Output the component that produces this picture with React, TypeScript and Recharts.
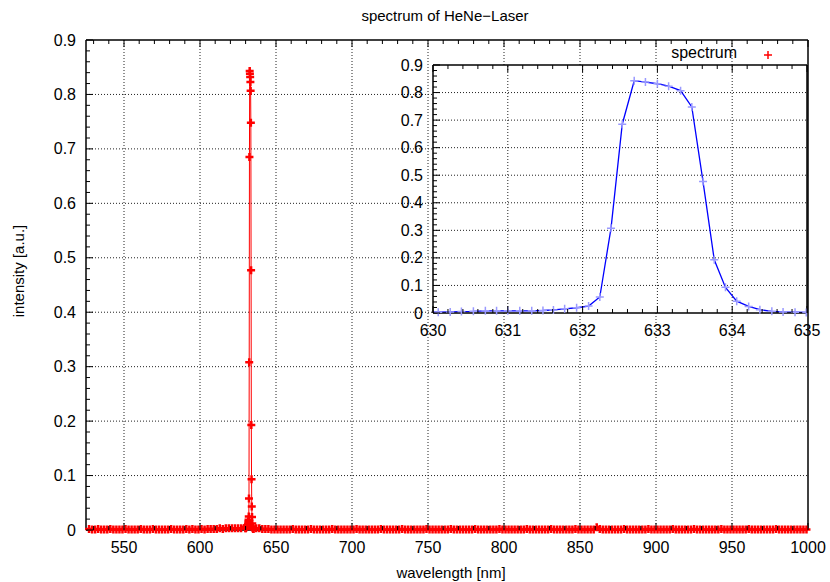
import React from 'react';
import { LineChart, Line, XAxis, YAxis, ReferenceLine, Legend } from 'recharts';

const TITLE = 'spectrum of HeNe\u2212Laser';
const X_LABEL = 'wavelength [nm]';
const Y_LABEL = 'intensity [a.u.]';
const SERIES_NAME = 'spectrum';

// axes
const mainXTicks = [550, 600, 650, 700, 750, 800, 850, 900, 950, 1000];
const mainYTicks = [0, 0.1, 0.2, 0.3, 0.4, 0.5, 0.6, 0.7, 0.8, 0.9];
const mainXDomain = [525, 1000];
const mainXMinorStep = 10;
const yMinorStep = 0.02;
const insetXTicks = [630, 631, 632, 633, 634, 635];
const insetYTicks = [0, 0.1, 0.2, 0.3, 0.4, 0.5, 0.6, 0.7, 0.8, 0.9];
const insetXMinorStep = 0.2;

// baseline samples (2 nm apart) left of the line
const baseLeftStart = 527;
const baseStep = 2;
const baseLeftValues = [
  0.002, 0.001, 0.001, 0.002, 0.001, 0.001, 0.001, 0.002, 0.001, 0.001,
  0.001, 0.001, 0.002, 0.001, 0.001, 0.001, 0.001, 0.002, 0.001, 0.001,
  0.001, 0.002, 0.001, 0.001, 0.001, 0.001, 0.001, 0.002, 0.001, 0.001,
  0.001, 0.001, 0.002, 0.001, 0.002, 0.001, 0.001, 0.002, 0.001, 0.002,
  0.002, 0.002, 0.002, 0.003, 0.002, 0.003, 0.003, 0.003, 0.003, 0.003,
  0.003,
];
// baseline samples right of the line
const baseRightStart = 637;
const baseRightValues = [
  0.003, 0.003, 0.002, 0.002, 0.002, 0.001, 0.001, 0.001, 0.001, 0.001,
  0.001, 0.001, 0.002, 0.001, 0.001, 0.001, 0.001, 0.001, 0.002, 0.001,
  0.001, 0.001, 0.001, 0.001, 0.001, 0.002, 0.001, 0.001, 0.001, 0.001,
  0.001, 0.001, 0.001, 0.002, 0.001, 0.001, 0.001, 0.001, 0.001, 0.001,
  0.001, 0.002, 0.001, 0.001, 0.001, 0.001, 0.001, 0.001, 0.002, 0.001,
  0.001, 0.001, 0.001, 0.001, 0.001, 0.001, 0.002, 0.001, 0.001, 0.001,
  0.001, 0.001, 0.001, 0.001, 0.002, 0.001, 0.001, 0.001, 0.001, 0.001,
  0.001, 0.001, 0.002, 0.001, 0.001, 0.001, 0.001, 0.001, 0.001, 0.001,
  0.002, 0.001, 0.001, 0.001, 0.001, 0.001, 0.001, 0.001, 0.001, 0.002,
  0.001, 0.001, 0.001, 0.001, 0.001, 0.001, 0.001, 0.002, 0.001, 0.001,
  0.001, 0.001, 0.001, 0.001, 0.001, 0.002, 0.001, 0.001, 0.001, 0.001,
  0.001, 0.001, 0.005, 0.002, 0.001, 0.001, 0.001, 0.001, 0.001, 0.001,
  0.001, 0.002, 0.001, 0.001, 0.001, 0.001, 0.001, 0.001, 0.001, 0.002,
  0.001, 0.001, 0.001, 0.001, 0.001, 0.001, 0.001, 0.002, 0.001, 0.001,
  0.001, 0.001, 0.001, 0.001, 0.002, 0.001, 0.001, 0.001, 0.001, 0.001,
  0.001, 0.001, 0.001, 0.002, 0.001, 0.001, 0.001, 0.001, 0.001, 0.001,
  0.001, 0.001, 0.002, 0.001, 0.001, 0.001, 0.001, 0.001, 0.001, 0.001,
  0.001, 0.002, 0.001, 0.001, 0.001, 0.001, 0.001, 0.001, 0.001, 0.001,
  0.001, 0.001,
];
// the laser line itself
const peakWavelengths = [
  629.92, 630.07, 630.23, 630.38, 630.54, 630.7, 630.85, 631.0, 631.16, 631.32,
  631.47, 631.61, 631.76, 631.92, 632.08, 632.23, 632.38, 632.53, 632.69, 632.84,
  633.0, 633.15, 633.31, 633.46, 633.61, 633.76, 633.91, 634.06, 634.22, 634.37,
  634.53, 634.68, 634.84, 634.99, 635.15,
];
const peakValues = [
  0.003, 0.003, 0.004, 0.005, 0.006, 0.008, 0.008, 0.008, 0.008, 0.008,
  0.009, 0.011, 0.015, 0.019, 0.025, 0.058, 0.308, 0.685, 0.843, 0.838,
  0.832, 0.823, 0.807, 0.748, 0.477, 0.193, 0.093, 0.043, 0.024, 0.012,
  0.006, 0.004, 0.003, 0.002, 0.002,
];

const FONT = '"Liberation Sans", Arial, Helvetica, sans-serif';

const mainData = [
  ...baseLeftValues.map((y, i) => ({ x: baseLeftStart + i * baseStep, y })),
  ...peakWavelengths.map((x, i) => ({ x, y: peakValues[i] })),
  ...baseRightValues.map((y, i) => ({ x: baseRightStart + i * baseStep, y })),
].sort((a, b) => a.x - b.x);

const insetData = peakWavelengths.map((x, i) => ({ x, y: peakValues[i] }));

const withMinor = (lo: number, hi: number, step: number) => {
  const out: number[] = [];
  const n = Math.round((hi - lo) / step);
  for (let i = 0; i <= n; i++) out.push(Math.round((lo + i * step) * 1000) / 1000);
  return out;
};

const isMajor = (majors: number[], v: number) => majors.some((m) => Math.abs(m - v) < 1e-6);

const fmtY = (v: number) => (Math.abs(v) < 1e-9 ? '0' : v.toFixed(1));
const fmtX = (v: number) => String(Math.round(v));

const makeTick = (
  orient: 'bottom' | 'top' | 'left' | 'right',
  majors: number[],
  fmt: ((v: number) => string) | null,
) => (props: any) => {
  const { x, y, payload, index } = props;
  const v = payload.value;
  const major = isMajor(majors, v);
  const len = major ? 7 : 4;
  let line;
  let label = null;
  if (orient === 'bottom') {
    line = <line x1={x} y1={y} x2={x} y2={y - len} stroke="#000" strokeWidth={1} />;
    if (fmt && major)
      label = (
        <text x={x} y={y + 23} textAnchor="middle" fontSize={16} fontFamily={FONT} fill="#000">
          {fmt(v)}
        </text>
      );
  } else if (orient === 'top') {
    line = <line x1={x} y1={y} x2={x} y2={y + len} stroke="#000" strokeWidth={1} />;
  } else if (orient === 'left') {
    line = <line x1={x} y1={y} x2={x + len} y2={y} stroke="#000" strokeWidth={1} />;
    if (fmt && major)
      label = (
        <text x={x - 10} y={y + 5.5} textAnchor="end" fontSize={16} fontFamily={FONT} fill="#000">
          {fmt(v)}
        </text>
      );
  } else {
    line = <line x1={x} y1={y} x2={x - len} y2={y} stroke="#000" strokeWidth={1} />;
  }
  return (
    <g key={`t-${orient}-${index}`}>
      {line}
      {label}
    </g>
  );
};

const makeCross = (color: string, half: number, sw: number) => (props: any) => {
  const { cx, cy, index } = props;
  if (cx == null || cy == null) return <g key={`c-${index}`} />;
  return (
    <path
      key={`c-${index}`}
      d={`M${cx - half},${cy}h${half * 2}M${cx},${cy - half}v${half * 2}`}
      stroke={color}
      strokeWidth={sw}
      fill="none"
    />
  );
};

const axisLineStyle = { stroke: '#000', strokeWidth: 1.5 };
const gridStyle = { stroke: '#222', strokeDasharray: '1 2', strokeWidth: 1 };

const mainXAll = withMinor(530, 1000, mainXMinorStep);
const mainYAll = withMinor(0, 0.9, yMinorStep);
const insetXAll = withMinor(630, 635, insetXMinorStep);
const insetYAll = withMinor(0, 0.9, yMinorStep);

const LegendContent = (props: any) => {
  const item = props.payload && props.payload[0];
  const name = item ? item.value : SERIES_NAME;
  return (
    <svg width={200} height={26} style={{ display: 'block', overflow: 'visible' }}>
      <text x={137} y={14.5} textAnchor="end" fontSize={16} fontFamily={FONT} fill="#000">
        {name}
      </text>
      <path d="M164,12h8M168,8v8" stroke="#ff0000" strokeWidth={1.5} />
    </svg>
  );
};

const axisCommon = {
  interval: 0 as const,
  tickSize: 0,
  tickMargin: 0,
  tickLine: false,
  axisLine: axisLineStyle,
};

export default function App() {
  return (
    <div style={{ position: 'absolute', left: 0, top: 0, width: 830, height: 582, background: '#fff' }}>
      <div style={{ position: 'absolute', left: 0, top: 0 }}>
        <LineChart width={830} height={582} data={mainData} margin={{ top: 39, right: 21, bottom: 51, left: 85 }}>
          {mainXTicks
            .filter((v) => v < 1000)
            .map((v) => (
              <ReferenceLine key={`gx${v}`} x={v} xAxisId="b" yAxisId="l" {...gridStyle} />
            ))}
          {mainYTicks
            .filter((v) => v > 0 && v < 0.9)
            .map((v) => (
              <ReferenceLine key={`gy${v}`} y={v} xAxisId="b" yAxisId="l" {...gridStyle} />
            ))}
          <Line
            xAxisId="b"
            yAxisId="l"
            dataKey="y"
            name={SERIES_NAME}
            stroke="#ff0000"
            strokeWidth={1}
            dot={makeCross('#ff0000', 4, 2.5)}
            activeDot={false}
            isAnimationActive={false}
          />
          <XAxis
            xAxisId="b"
            orientation="bottom"
            dataKey="x"
            type="number"
            domain={mainXDomain}
            ticks={mainXAll}
            height={1}
            {...axisCommon}
            tick={makeTick('bottom', mainXTicks, fmtX)}
          />
          <XAxis
            xAxisId="t"
            orientation="top"
            dataKey="x"
            type="number"
            domain={mainXDomain}
            ticks={mainXAll}
            height={1}
            {...axisCommon}
            tick={makeTick('top', mainXTicks, null)}
          />
          <YAxis
            yAxisId="l"
            orientation="left"
            type="number"
            domain={[0, 0.9]}
            ticks={mainYAll}
            width={1}
            {...axisCommon}
            tick={makeTick('left', mainYTicks, fmtY)}
          />
          <YAxis
            yAxisId="r"
            orientation="right"
            type="number"
            domain={[0, 0.9]}
            ticks={mainYAll}
            width={1}
            {...axisCommon}
            tick={makeTick('right', mainYTicks, null)}
          />
          <Legend
            layout="horizontal"
            verticalAlign="middle"
            align="center"
            content={<LegendContent />}
            wrapperStyle={{ position: 'absolute', left: 600, top: 43, width: 200, height: 26 }}
          />
        </LineChart>
      </div>

      <div style={{ position: 'absolute', left: 433, top: 65, width: 374, height: 248, background: '#fff' }} />

      <div style={{ position: 'absolute', left: 390, top: 58 }}>
        <LineChart width={440} height={290} data={insetData} margin={{ top: 6, right: 22, bottom: 34, left: 42 }}>
          {insetXTicks
            .filter((v) => v > 630 && v < 635)
            .map((v) => (
              <ReferenceLine key={`igx${v}`} x={v} xAxisId="b" yAxisId="l" {...gridStyle} />
            ))}
          {insetYTicks
            .filter((v) => v > 0 && v < 0.9)
            .map((v) => (
              <ReferenceLine key={`igy${v}`} y={v} xAxisId="b" yAxisId="l" {...gridStyle} />
            ))}
          <Line
            xAxisId="b"
            yAxisId="l"
            dataKey="y"
            name={SERIES_NAME}
            stroke="#0000ff"
            strokeWidth={1.3}
            dot={makeCross('#9a9aff', 4, 1.5)}
            activeDot={false}
            isAnimationActive={false}
          />
          <XAxis
            xAxisId="b"
            orientation="bottom"
            dataKey="x"
            type="number"
            domain={[630, 635]}
            allowDataOverflow
            ticks={insetXAll}
            height={1}
            {...axisCommon}
            tick={makeTick('bottom', insetXTicks, fmtX)}
          />
          <XAxis
            xAxisId="t"
            orientation="top"
            dataKey="x"
            type="number"
            domain={[630, 635]}
            allowDataOverflow
            ticks={insetXAll}
            height={1}
            {...axisCommon}
            tick={makeTick('top', insetXTicks, null)}
          />
          <YAxis
            yAxisId="l"
            orientation="left"
            type="number"
            domain={[0, 0.9]}
            ticks={insetYAll}
            width={1}
            {...axisCommon}
            tick={makeTick('left', insetYTicks, fmtY)}
          />
          <YAxis
            yAxisId="r"
            orientation="right"
            type="number"
            domain={[0, 0.9]}
            ticks={insetYAll}
            width={1}
            {...axisCommon}
            tick={makeTick('right', insetYTicks, null)}
          />
        </LineChart>
      </div>

      <svg
        width={830}
        height={582}
        style={{ position: 'absolute', left: 0, top: 0, pointerEvents: 'none' }}
      >
        <text x={445} y={20.5} textAnchor="middle" fontSize={15} fontFamily={FONT} fill="#000">
          {TITLE}
        </text>
        <text x={451} y={577.5} textAnchor="middle" fontSize={15} fontFamily={FONT} fill="#000">
          {X_LABEL}
        </text>
        <text
          x={0}
          y={0}
          transform="translate(24,271) rotate(-90)"
          textAnchor="middle"
          fontSize={15}
          fontFamily={FONT}
          fill="#000"
        >
          {Y_LABEL}
        </text>
      </svg>
    </div>
  );
}
